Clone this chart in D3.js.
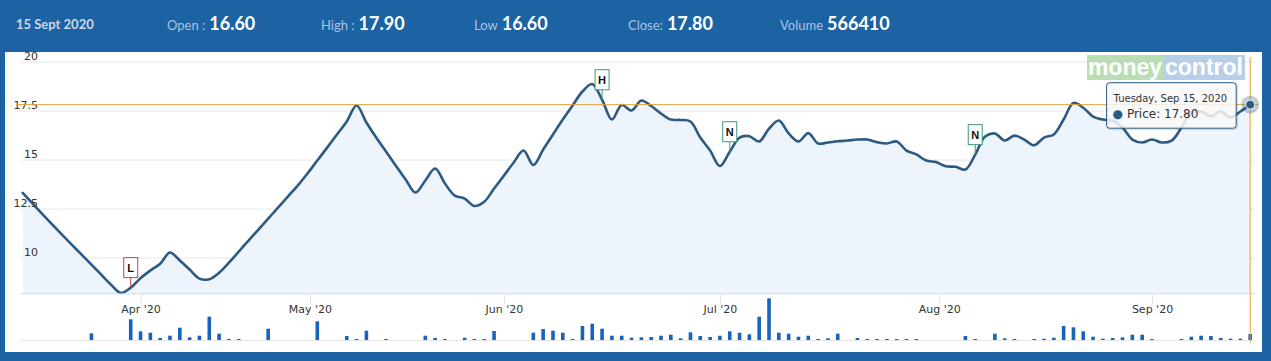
<!DOCTYPE html>
<html><head><meta charset="utf-8">
<script src="https://cdn.jsdelivr.net/npm/d3@7"></script>
<style>body{margin:0;background:#fff;}svg{display:block;}</style>
</head><body>
<svg id="c" width="1271" height="361"></svg>
<script>
// ---------------- data ----------------
const dates = [
"2020-03-16","2020-03-17","2020-03-18","2020-03-19","2020-03-20","2020-03-23","2020-03-24","2020-03-25","2020-03-26","2020-03-27","2020-03-30","2020-03-31",
"2020-04-01","2020-04-03","2020-04-07","2020-04-08","2020-04-09","2020-04-13","2020-04-15","2020-04-16","2020-04-17","2020-04-20","2020-04-21","2020-04-22","2020-04-23","2020-04-24","2020-04-27","2020-04-28","2020-04-29","2020-04-30",
"2020-05-04","2020-05-05","2020-05-06","2020-05-07","2020-05-08","2020-05-11","2020-05-12","2020-05-13","2020-05-14","2020-05-15","2020-05-18","2020-05-19","2020-05-20","2020-05-21","2020-05-22","2020-05-26","2020-05-27","2020-05-28","2020-05-29",
"2020-06-01","2020-06-02","2020-06-03","2020-06-04","2020-06-05","2020-06-08","2020-06-09","2020-06-10","2020-06-11","2020-06-12","2020-06-15","2020-06-16","2020-06-17","2020-06-18","2020-06-19","2020-06-22","2020-06-23","2020-06-24","2020-06-25","2020-06-26","2020-06-29","2020-06-30",
"2020-07-01","2020-07-02","2020-07-03","2020-07-06","2020-07-07","2020-07-08","2020-07-09","2020-07-10","2020-07-13","2020-07-14","2020-07-15","2020-07-16","2020-07-17","2020-07-20","2020-07-21","2020-07-22","2020-07-23","2020-07-24","2020-07-27","2020-07-28","2020-07-29","2020-07-30","2020-07-31",
"2020-08-03","2020-08-04","2020-08-05","2020-08-06","2020-08-07","2020-08-10","2020-08-11","2020-08-12","2020-08-13","2020-08-14","2020-08-17","2020-08-18","2020-08-19","2020-08-20","2020-08-21","2020-08-24","2020-08-25","2020-08-26","2020-08-27","2020-08-28","2020-08-31",
"2020-09-01","2020-09-02","2020-09-03","2020-09-04","2020-09-07","2020-09-08","2020-09-09","2020-09-10","2020-09-11","2020-09-14","2020-09-15"
];
const prices = [
13.30,12.76,12.22,11.69,11.17,10.66,10.15,9.64,9.13,8.62,
8.20,8.47,8.95,9.34,9.69,10.26,9.85,9.39,8.93,8.90,
9.23,9.74,10.31,10.87,11.43,11.99,12.55,13.11,13.67,14.29,
14.95,15.61,16.28,16.94,17.76,16.89,16.12,15.41,14.69,13.98,
13.32,13.93,14.54,13.78,13.16,13.01,12.63,12.85,13.52,14.18,
14.85,15.46,14.72,15.51,16.28,17.04,17.76,18.47,18.85,18.05,
17.04,17.78,17.50,18.01,17.73,17.35,17.04,17.02,16.94,16.12,
15.46,14.67,15.40,16.12,16.19,15.92,16.58,16.99,16.33,15.92,
16.35,15.82,15.87,15.93,15.97,16.02,16.02,15.89,15.82,15.92,
15.46,15.26,14.95,14.87,14.66,14.63,14.49,15.25,16.17,16.33,
15.97,16.22,16.02,15.73,16.12,16.28,17.04,17.89,17.64,17.19,
17.04,16.99,16.63,16.02,15.87,16.02,15.87,15.97,16.63,17.40,
17.45,17.21,17.46,17.14,17.45,17.80
];
const volumes = [
0,0,0,0,0,0,0,633000,0,0,
0,1956000,822000,690000,189000,406000,1162000,255000,406000,2202000,
595000,66000,94000,0,0,1068000,0,0,0,0,
1767000,0,0,378000,94000,879000,0,66000,0,0,
0,406000,189000,94000,0,217000,66000,66000,850000,0,
0,0,690000,1040000,879000,690000,94000,1323000,1540000,1068000,
406000,406000,217000,255000,283000,406000,500000,160000,728000,378000,
283000,406000,822000,690000,539000,2202000,3940000,690000,595000,312000,
406000,66000,160000,595000,0,189000,94000,94000,94000,94000,
66000,66000,0,0,0,0,378000,66000,0,595000,
160000,66000,0,66000,123000,217000,1323000,1200000,822000,312000,
123000,189000,255000,500000,500000,28000,0,0,94000,312000,
406000,378000,189000,123000,123000,566410
];
const yTicks = [10, 12.5, 15, 17.5, 20];
const monthStarts = ["2020-04-01","2020-05-01","2020-06-01","2020-07-01","2020-08-01","2020-09-01"];
const flagDates = ["2020-03-31","2020-06-15","2020-07-02","2020-08-06"];
const flagTitles = ["L","H","N","N"];
const flagColors = ["#c9463d","#3a9a7a","#3a9a7a","#3a9a7a"];
const headerDate = "15 Sept 2020";
const statLabels = ["Open :","High :","Low","Close:","Volume"];
const statValues = ["16.60","17.90","16.60","17.80","566410"];
const seriesName = "Price";
const hoverDate = "2020-09-15";

// ---------------- layout ----------------
const W = 1271, H = 361;
const blue = "#1c63a3";
const lineColor = "#2c5a82";
const plotL = 20, plotR = 1255;
const priceBottom = 293.3, volBottom = 340;

const svg = d3.select("#c");
const parse = d3.timeParse("%Y-%m-%d");
const D = dates.map(parse);
const n = D.length;
const ordinal = d3.scaleTime().domain(D).range(D.map((d, i) => i));
const x = d3.scaleLinear().domain([0, n - 1]).range([22.7, 1250.2]);
const y = d3.scaleLinear().domain([8.18, 20]).range([priceBottom, 61.5]);
const yv = d3.scaleLinear().domain([0, 4000000]).range([volBottom, 297.7]);

svg.append("rect").attr("width", W).attr("height", H).attr("fill", "#fff");

// grid
const gy = svg.append("g").attr("transform", `translate(${plotL},0)`)
  .call(d3.axisLeft(y).tickValues(yTicks).tickSize(-(plotR - plotL)).tickFormat(""));
gy.select(".domain").remove();
gy.selectAll(".tick line").attr("stroke", "#e6e6e6");

// area + line
const curve = d3.curveCatmullRom.alpha(0.5);
svg.append("path").datum(prices)
  .attr("d", d3.area().x((d, i) => x(i)).y0(priceBottom).y1(d => y(d)).curve(curve))
  .attr("fill", "#edf4fb");
svg.append("path").datum(prices)
  .attr("d", d3.line().x((d, i) => x(i)).y(d => y(d)).curve(curve))
  .attr("fill", "none").attr("stroke", lineColor).attr("stroke-width", 2.6)
  .attr("stroke-linejoin", "round").attr("stroke-linecap", "round");

// y labels (above series)
const gyl = svg.append("g").attr("transform", `translate(${plotL},0)`)
  .call(d3.axisLeft(y).tickValues(yTicks).tickSize(0).tickFormat(d3.format("")));
gyl.select(".domain").remove();
gyl.selectAll(".tick line").remove();
gyl.selectAll(".tick text").attr("x", 18).attr("dy", "-0.18em").attr("text-anchor", "end")
  .attr("fill", "#333").style("font", "11px 'DejaVu Sans', sans-serif");

// x axis
const monthDates = monthStarts.map(parse);
const fmtMonth = d3.timeFormat("%b '%y");
svg.append("line").attr("x1", plotL).attr("x2", plotR).attr("y1", priceBottom + 0.5).attr("y2", priceBottom + 0.5)
  .attr("stroke", "#ccd6eb");
const gx = svg.append("g").attr("transform", `translate(0,${priceBottom})`)
  .call(d3.axisBottom(x).tickValues(monthDates.map(d => ordinal(d))).tickSize(11)
    .tickFormat((v, i) => fmtMonth(monthDates[i])));
gx.select(".domain").remove();
gx.selectAll(".tick line").attr("stroke", "#dde3ee");
gx.selectAll(".tick text").attr("y", 20).attr("dy", null).attr("fill", "#333")
  .style("font", "11px 'DejaVu Sans', sans-serif");

// volume
svg.append("line").attr("x1", plotL).attr("x2", plotR).attr("y1", volBottom + 0.5).attr("y2", volBottom + 0.5)
  .attr("stroke", "#e6e6e6");
svg.append("g").selectAll("rect").data(volumes).join("rect")
  .attr("x", (d, i) => x(i) - 1.8).attr("width", 3.6)
  .attr("y", d => d > 0 ? Math.min(yv(d), volBottom - 1) : volBottom)
  .attr("height", d => d > 0 ? Math.max(volBottom - yv(d), 1) : 0)
  .attr("fill", "#1864bd");

// flags
const fg = svg.append("g");
flagDates.forEach((ds, k) => {
  const i = Math.round(ordinal(parse(ds)));
  const px = x(i), py = y(prices[i]);
  const bh = 20, bw = 14, gap = 10;
  fg.append("line").attr("x1", px).attr("x2", px).attr("y1", py - gap).attr("y2", py)
    .attr("stroke", flagColors[k]).attr("stroke-width", 1);
  fg.append("rect").attr("x", px - bw / 2).attr("y", py - gap - bh).attr("width", bw).attr("height", bh)
    .attr("fill", "#fff").attr("stroke", flagColors[k]).attr("stroke-width", 1);
  fg.append("text").attr("x", px).attr("y", py - gap - 6).attr("text-anchor", "middle")
    .attr("fill", "#111").style("font", "bold 11px 'Liberation Sans', Arial, sans-serif").text(flagTitles[k]);
});

// watermark logo
const logo = svg.append("g").attr("opacity", 0.75);
logo.append("rect").attr("x", 1087).attr("y", 55).attr("width", 76).attr("height", 25).attr("fill", "#a3d39c");
logo.append("rect").attr("x", 1163).attr("y", 55).attr("width", 82).attr("height", 25).attr("fill", "#9fbfe2");
logo.append("text").attr("x", 1125).attr("y", 75).attr("text-anchor", "middle").attr("fill", "#fff")
  .style("font", "bold 23px 'Liberation Sans', Arial, sans-serif").text("money");
logo.append("text").attr("x", 1204).attr("y", 75).attr("text-anchor", "middle").attr("fill", "#fff")
  .style("font", "bold 23px 'Liberation Sans', Arial, sans-serif").text("control");

// crosshair
const hi = Math.round(ordinal(parse(hoverDate)));
const hx = x(hi), hy = y(prices[hi]);
const cross = "#e0a33c";
svg.append("line").attr("x1", 16).attr("x2", 1258).attr("y1", hy).attr("y2", hy).attr("stroke", cross);
svg.append("line").attr("x1", hx).attr("x2", hx).attr("y1", 57).attr("y2", 343).attr("stroke", cross);

// tooltip
const tt = svg.append("g");
const box = tt.append("rect").attr("rx", 3).attr("ry", 3)
  .attr("fill", "rgba(248,248,248,0.85)").attr("stroke", lineColor).attr("stroke-width", 1);
const t1 = tt.append("text").attr("fill", "#333").style("font", "10px 'DejaVu Sans', sans-serif")
  .text(d3.timeFormat("%A, %b %d, %Y")(D[hi]));
const t2 = tt.append("text").attr("fill", "#333").style("font", "12px 'DejaVu Sans', sans-serif");
t2.append("tspan").attr("fill", lineColor).text("\u25CF ");
t2.append("tspan").text(seriesName + ": " + d3.format(".2f")(prices[hi]));
const bw1 = Math.max(t1.node().getComputedTextLength(), t2.node().getComputedTextLength());
const boxW = bw1 + 16, boxH = 45.5;
const bx = hx - 14 - boxW, by = 82.7;
box.attr("x", bx).attr("y", by).attr("width", boxW).attr("height", boxH);
tt.insert("rect", ":first-child").attr("x", bx + 1).attr("y", by + 1).attr("width", boxW).attr("height", boxH)
  .attr("rx", 3).attr("fill", "none").attr("stroke", "rgba(0,0,0,0.12)").attr("stroke-width", 2);
t1.attr("x", bx + 7).attr("y", by + 19);
t2.attr("x", bx + 6).attr("y", by + 35);

// hover marker
svg.append("circle").attr("cx", hx).attr("cy", hy).attr("r", 9).attr("fill", lineColor).attr("opacity", 0.3);
svg.append("circle").attr("cx", hx).attr("cy", hy).attr("r", 4.5).attr("fill", lineColor)
  .attr("stroke", "#fff").attr("stroke-width", 1);

// frame
svg.append("rect").attr("x", 0).attr("y", 0).attr("width", W).attr("height", 52).attr("fill", blue);
svg.append("rect").attr("x", 0).attr("y", 0).attr("width", 5).attr("height", H).attr("fill", blue);
svg.append("rect").attr("x", 1262).attr("y", 0).attr("width", W - 1262).attr("height", H).attr("fill", blue);
svg.append("rect").attr("x", 0).attr("y", 352).attr("width", W).attr("height", H - 352).attr("fill", blue);

// header
svg.append("text").attr("x", 16).attr("y", 29).attr("fill", "#c9d8eb")
  .style("font", "bold 13px Lato, sans-serif").text(headerDate);
const statX = [167, 321, 474, 628, 780];
statLabels.forEach((lab, k) => {
  const t = svg.append("text").attr("x", statX[k]).attr("y", 29.5);
  t.append("tspan").attr("fill", "#aac2e0").style("font", "13px Lato, sans-serif").text(lab);
  t.append("tspan").attr("dx", 4).attr("fill", "#fff").style("font", "bold 18px Lato, sans-serif").text(statValues[k]);
});
</script>
</body></html>
